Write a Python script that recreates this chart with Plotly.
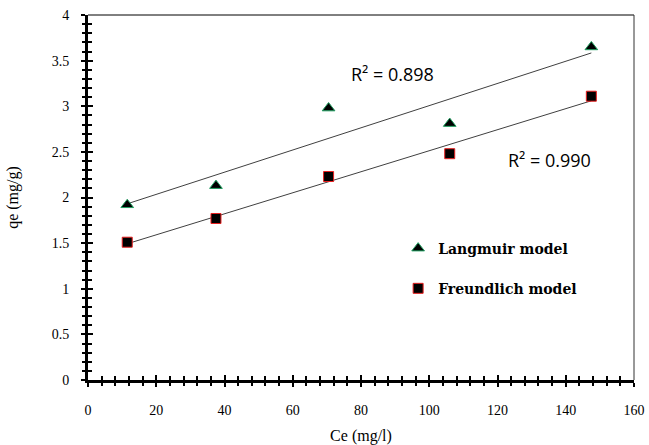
import numpy as np
import plotly.graph_objects as go

ce = [11.5, 37.5, 70.5, 106.0, 147.5]
langmuir_qe = [1.92, 2.13, 2.98, 2.81, 3.65]
freundlich_qe = [1.51, 1.77, 2.23, 2.48, 3.11]
r2_labels = ["R² = 0.898", "R² = 0.990"]
x_ticks = [0, 20, 40, 60, 80, 100, 120, 140, 160]
y_ticks = [0, 0.5, 1, 1.5, 2, 2.5, 3, 3.5, 4]

fig = go.Figure()

for ys in (langmuir_qe, freundlich_qe):
    m, b = np.polyfit(ce, ys, 1)
    xs = [min(ce), max(ce)]
    fig.add_trace(go.Scatter(x=xs, y=[m * v + b for v in xs], mode="lines",
                             line=dict(color="#404040", width=1), showlegend=False,
                             hoverinfo="skip"))

fig.add_trace(go.Scatter(x=ce, y=langmuir_qe, mode="markers", name="Langmuir model",
                         legendgroup="a",
                         marker=dict(symbol="triangle-up", size=11, color="black",
                                     line=dict(color="#1fa060", width=1))))
fig.add_trace(go.Scatter(x=ce, y=freundlich_qe, mode="markers", name="Freundlich model",
                         legendgroup="b",
                         marker=dict(symbol="square", size=10, color="black",
                                     line=dict(color="#e82020", width=1))))

fig.add_trace(go.Scatter(x=[None], y=[None], xaxis="x2", yaxis="y2", showlegend=False))

tickfont = dict(family="Liberation Serif", size=14, color="black")
fig.update_layout(
    width=649, height=445,
    margin=dict(l=88, r=15, t=15, b=65),
    paper_bgcolor="white", plot_bgcolor="white",
    showlegend=True,
    legend=dict(x=0.568, y=0.404, xanchor="left", yanchor="top",
                font=dict(family="DejaVu Serif", size=14, color="black", weight="bold"),
                tracegroupgap=19, bgcolor="rgba(0,0,0,0)", itemwidth=30),
    xaxis=dict(range=[0, 160], tickvals=x_ticks, showgrid=False, zeroline=False,
               showline=True, linecolor="black", linewidth=3, automargin=False,
               ticks="outside", ticklen=4, tickwidth=2, tickcolor="black",
               minor=dict(dtick=4, ticks="outside", ticklen=3, tickwidth=2, tickcolor="black"),
               tickfont=tickfont, ticklabelstandoff=11,
               title=dict(text="Ce (mg/l)", font=dict(family="Liberation Serif", size=16, color="black"),
                          standoff=22)),
    yaxis=dict(range=[0, 4], tickvals=y_ticks, showgrid=False, zeroline=False,
               showline=True, linecolor="black", linewidth=3, automargin=False,
               ticks="outside", ticklen=4, tickwidth=2, tickcolor="black",
               minor=dict(dtick=0.1, ticks="outside", ticklen=3, tickwidth=2, tickcolor="black"),
               tickfont=tickfont, ticklabelstandoff=9,
               title=dict(text="qe (mg/g)", font=dict(family="Liberation Serif", size=16, color="black"),
                          standoff=30)),
    xaxis2=dict(overlaying="x", range=[0, 160], tickvals=x_ticks, showgrid=False, zeroline=False,
                showticklabels=False, ticks="inside", ticklen=5, tickwidth=2, tickcolor="black",
                minor=dict(dtick=4, ticks="inside", ticklen=4, tickwidth=2, tickcolor="black"),
                side="bottom", automargin=False),
    yaxis2=dict(overlaying="y", range=[0, 4], tickvals=y_ticks, showgrid=False, zeroline=False,
                showticklabels=False, ticks="inside", ticklen=5, tickwidth=2, tickcolor="black",
                minor=dict(dtick=0.1, ticks="inside", ticklen=4, tickwidth=2, tickcolor="black"),
                side="left", automargin=False),
)

fig.add_shape(type="line", xref="paper", yref="paper", x0=0, x1=1, y0=1, y1=1,
              line=dict(color="black", width=1))
fig.add_shape(type="line", xref="paper", yref="paper", x0=1, x1=1, y0=0, y1=1,
              line=dict(color="#333333", width=1))

fig.add_annotation(x=76.5, y=3.35, text=r2_labels[0], showarrow=False, xanchor="left",
                   font=dict(family="Open Sans", size=18, color="black"))
fig.add_annotation(x=122.5, y=2.41, text=r2_labels[1], showarrow=False, xanchor="left",
                   font=dict(family="Open Sans", size=18, color="black"))

fig.write_html("out.html")
